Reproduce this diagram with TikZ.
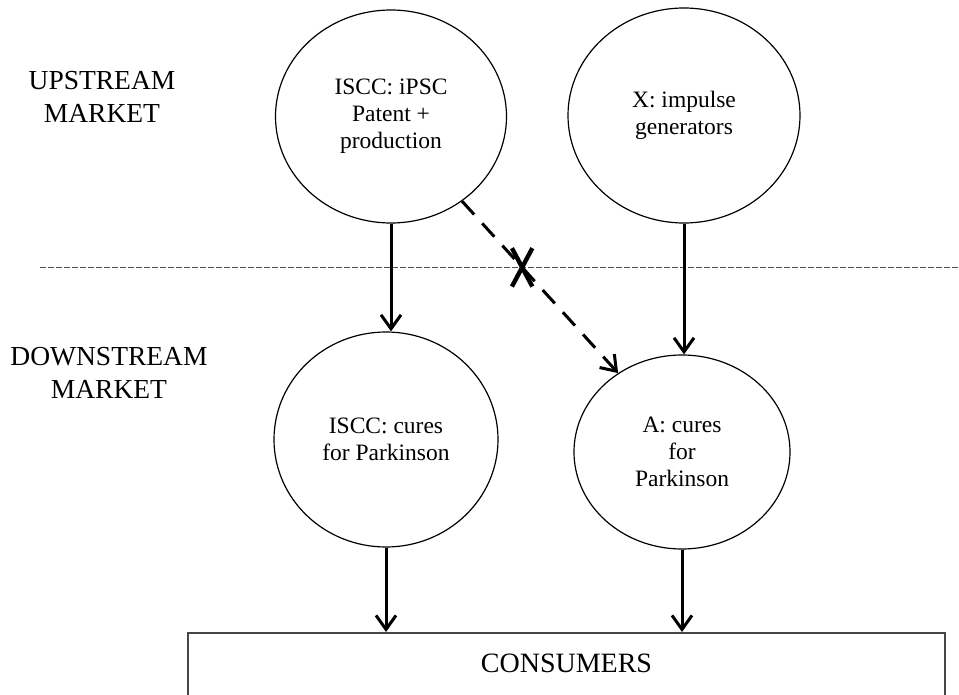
\documentclass[tikz,border=0pt]{standalone}
\usepackage{fontspec}
\setmainfont{Liberation Serif}
\usepackage{tikz}
\usetikzlibrary{shapes.geometric, shapes.misc, arrows.meta, positioning, calc}
\definecolor{dividergray}{RGB}{80,80,80}
\definecolor{boxgray}{RGB}{70,70,70}
\tikzset{
  firmnode/.style={ellipse, draw=black, line width=0.6pt, align=center, inner sep=0pt,
    font=\fontsize{11.75}{13.4}\selectfont},
  marketlabel/.style={align=center, font=\fontsize{13.75}{16.4}\selectfont},
  consumerbox/.style={rectangle, draw=boxgray, line width=0.75pt, anchor=north, inner sep=0pt,
    minimum width=378.5pt, text height=20pt, text depth=44pt, font=\fontsize{14}{16}\selectfont},
  flowarrow/.style={-{Straight Barb[length=7pt, width=10pt]}, line width=1.5pt},
  blockedarrow/.style={flowarrow, dash pattern=on 9pt off 6pt},
  divider/.style={draw=dividergray, line width=0.5pt, dash pattern=on 3pt off 1pt},
  crossmark/.style={cross out, draw=black, line width=2.2pt, solid, inner sep=0pt,
    minimum width=8pt, minimum height=17pt}
}

\begin{document}
\begin{tikzpicture}[x=0.5pt, y=-0.5pt]
  \clip (0,0) rectangle (959,695);

  % market levels
  \node[marketlabel] (upstream) at (102,97) {UPSTREAM\\MARKET};
  \node[marketlabel] (downstream) at (109,373) {DOWNSTREAM\\MARKET};
  \draw[divider] (40,268) -- (959,268);

  % firms
  \node[firmnode, minimum width=115.5pt, minimum height=106.5pt] (ipsc) at (391,116.5)
    {ISCC: iPSC\\Patent +\\production};
  \node[firmnode, minimum width=116pt, minimum height=107.5pt] (xgen) at (684,115.5)
    {X: impulse\\generators};
  \node[firmnode, minimum width=112pt, minimum height=107.5pt] (cures1) at (386,439.5)
    {ISCC: cures\\for Parkinson};
  \node[firmnode, minimum width=108pt, minimum height=97pt] (curesA) at (682,452)
    {A: cures\\for\\Parkinson};
  \node[consumerbox] (consumers) at (566.5,632) {CONSUMERS};

  \draw[flowarrow] (ipsc.south) -- (ipsc.south |- cures1.north);
  \draw[flowarrow] (xgen.south) -- (xgen.south |- curesA.north);
  \draw[blockedarrow] (ipsc.-50) -- (curesA.129) node[crossmark, pos=0.385] (block) {};
  \draw[flowarrow] (cures1.south) -- (cures1.south |- consumers.north);
  \draw[flowarrow] (curesA.south) -- (curesA.south |- consumers.north);
\end{tikzpicture}
\end{document}
